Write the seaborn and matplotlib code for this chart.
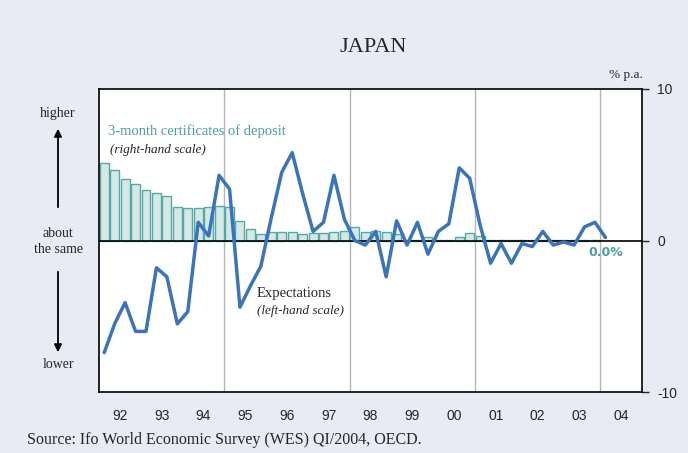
import matplotlib
matplotlib.use("Agg")
import matplotlib.pyplot as plt
import numpy as np
import pandas as pd
import seaborn as sns

# quarterly data, 1992Q1 onwards
expectations = [-74, -55, -41, -60, -60, -18, -24, -55, -47, 12,
                3, 43, 34, -44, -30, -17, 15, 45, 58, 31,
                6, 12, 43, 14, 0, -3, 6, -24, 13, -3,
                12, -9, 6, 11, 48, 41, 10, -15, -2, -15,
                -2, -4, 6, -3, -1, -3, 9, 12, 2]
cd_rate = [5.1, 4.67, 4.05, 3.74, 3.34, 3.16, 2.93, 2.22, 2.12, 2.12,
           2.2, 2.28, 2.22, 1.31, 0.73, 0.46, 0.55, 0.56, 0.56, 0.46,
           0.5, 0.52, 0.56, 0.63, 0.9, 0.56, 0.62, 0.55, 0.44, 0.03,
           0.05, 0.22, 0.05, 0.05, 0.22, 0.48, 0.3, 0.03, 0.02, 0.02,
           0.06, 0.02, 0.02, 0.02, 0.02, 0.02, 0.02, 0.02]
year_labels = ["92", "93", "94", "95", "96", "97", "98", "99", "00", "01", "02", "03", "04"]
right_ticks = [-10, 0, 10]
grid_years = [1995, 1998, 2001, 2004]

BG = "#e8eaf4"
LINE = "#3b74b8"
BAR_FILL = "#d5e8e6"
BAR_EDGE = "#55a9a4"
TEAL = "#4a9f9c"
SERIF = "Liberation Serif"
SANS = "Liberation Sans"


def quarter_mid(n):
    q = pd.period_range("1992Q1", periods=n, freq="Q")
    return q.year + (q.quarter - 0.5) / 4


def main():
    sns.set_style("ticks")
    plt.rcParams["font.family"] = [SANS, "DejaVu Sans"]

    fig = plt.figure(figsize=(6.88, 4.53), dpi=100, facecolor=BG)
    ax = fig.add_axes([99 / 688, 1 - 392 / 453, 543 / 688, 303 / 453])
    ax.set_facecolor("white")

    bars = pd.DataFrame({"x": quarter_mid(len(cd_rate)), "rate": cd_rate})
    sns.barplot(data=bars, x="x", y="rate", native_scale=True, width=0.86,
                color=BAR_FILL, edgecolor=BAR_EDGE, linewidth=1.0,
                saturation=1, ax=ax, zorder=2)

    ax.set_xlim(1992, 2005)
    ax.set_ylim(-10, 10)
    for g in grid_years:
        ax.axvline(g, color="#b5b5b5", lw=1.0, zorder=1)
    ax.axhline(0, color="black", lw=1.2, zorder=3)

    ax.set_xticks(np.arange(1992, 2005) + 0.5)
    ax.set_xticklabels(year_labels, fontsize=10, family=SANS)
    ax.tick_params(axis="x", length=0, pad=12)
    ax.set_xlabel("")
    ax.set_ylabel("")
    for s in ax.spines.values():
        s.set_visible(True)
        s.set_color("black")
        s.set_linewidth(1.2)

    # expectations on a hidden left-hand balance scale
    ax2 = ax.twinx()
    line = pd.DataFrame({"x": quarter_mid(len(expectations)), "bal": expectations})
    sns.lineplot(data=line, x="x", y="bal", color=LINE, lw=2.5, ax=ax2)
    ax2.set_ylim(-100, 100)
    ax2.set_xlim(1992, 2005)
    ax2.set_yticks([])
    ax2.set_ylabel("")
    ax2.set_xlabel("")
    for s in ax2.spines.values():
        s.set_visible(False)

    # right-hand scale (twinx resets ax ticks to the left, so do it here)
    ax.yaxis.tick_right()
    ax.set_yticks(right_ticks)
    ax.set_yticklabels([str(t) for t in right_ticks], fontsize=10, family=SANS)
    ax.tick_params(axis="y", direction="out", length=5, width=1.0, pad=6,
                   left=False, labelleft=False, right=True, labelright=True)

    # texts
    fig.text(373 / 688, 1 - 47 / 453, "JAPAN", ha="center", va="center",
             fontsize=16, family=SERIF)
    fig.text(643 / 688, 1 - 75 / 453, "% p.a.", ha="right", va="center",
             fontsize=9.5, family=SERIF)
    fig.text(108 / 688, 1 - 131 / 453, "3-month certificates of deposit",
             ha="left", va="center", fontsize=10.5, family=SERIF, color=TEAL)
    fig.text(110 / 688, 1 - 150 / 453, "(right-hand scale)", ha="left",
             va="center", fontsize=9.5, family=SERIF, style="italic")
    fig.text(257 / 688, 1 - 293 / 453, "Expectations", ha="left",
             va="center", fontsize=10.5, family=SERIF)
    fig.text(257 / 688, 1 - 311 / 453, "(left-hand scale)", ha="left",
             va="center", fontsize=9.5, family=SERIF, style="italic")
    fig.text(606 / 688, 1 - 253 / 453, "0.0%", ha="center", va="center",
             fontsize=9, family="DejaVu Sans", weight="bold", color=TEAL)

    fig.text(58 / 688, 1 - 113 / 453, "higher", ha="center", va="center",
             fontsize=10, family=SERIF)
    fig.text(58 / 688, 1 - 241 / 453, "about\nthe same", ha="center",
             va="center", fontsize=10, family=SERIF, linespacing=1.3)
    fig.text(58 / 688, 1 - 365 / 453, "lower", ha="center", va="center",
             fontsize=10, family=SERIF)
    arrow = dict(arrowstyle="-|>", color="black", lw=1.3, mutation_scale=11)
    fig.add_artist(matplotlib.patches.FancyArrowPatch(
        (58 / 688, 1 - 210 / 453), (58 / 688, 1 - 126 / 453),
        transform=fig.transFigure, **arrow))
    fig.add_artist(matplotlib.patches.FancyArrowPatch(
        (58 / 688, 1 - 269 / 453), (58 / 688, 1 - 355 / 453),
        transform=fig.transFigure, **arrow))

    fig.text(27 / 688, 1 - 440 / 453,
             "Source: Ifo World Economic Survey (WES) QI/2004, OECD.",
             ha="left", va="center", fontsize=11.5, family=SERIF)

    fig.savefig("out.png", dpi=100, facecolor=BG)


if __name__ == "__main__":
    main()
